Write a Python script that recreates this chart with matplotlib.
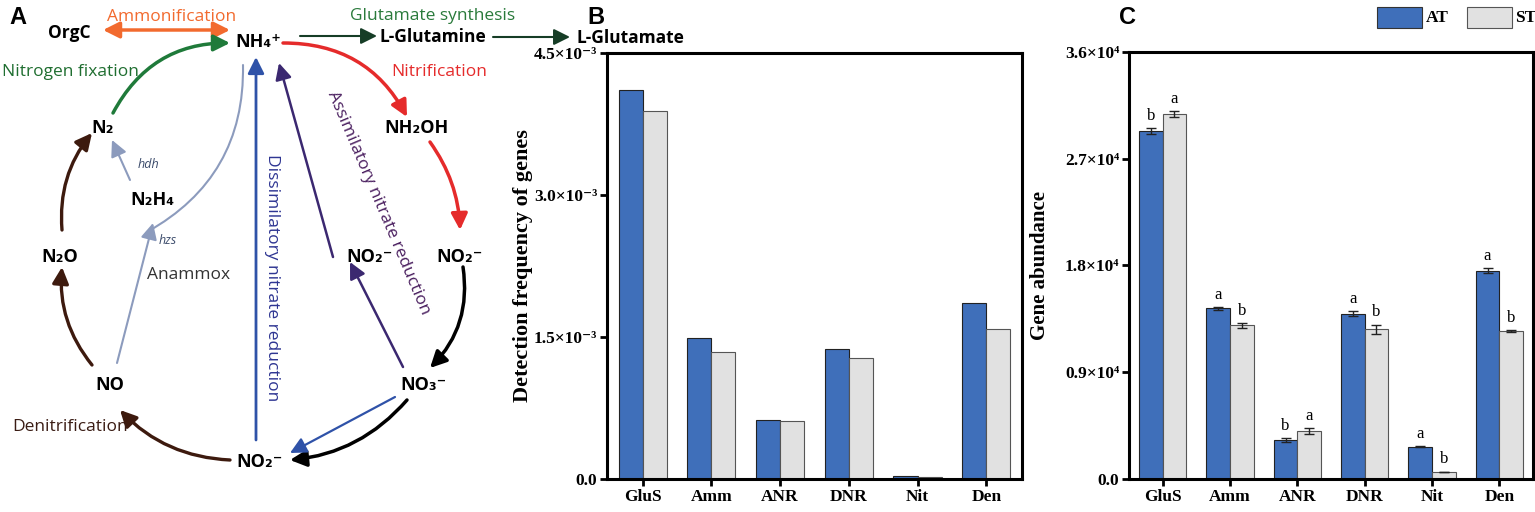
import matplotlib
matplotlib.use('Agg')
import matplotlib.pyplot as plt
from matplotlib.patches import FancyArrowPatch, Rectangle
import numpy as np

# panel B / C data
genes = ['GluS', 'Amm', 'ANR', 'DNR', 'Nit', 'Den']
freq_at = [4.11e-3, 1.49e-3, 0.62e-3, 1.37e-3, 0.035e-3, 1.86e-3]
freq_st = [3.89e-3, 1.34e-3, 0.61e-3, 1.28e-3, 0.025e-3, 1.58e-3]
abund_at = [29300, 14400, 3260, 13950, 2720, 17550]
abund_st = [30800, 12950, 4050, 12620, 590, 12480]
err_at = [250, 120, 180, 220, 40, 200]
err_st = [250, 180, 220, 400, 40, 100]
sig_at = ['b', 'a', 'b', 'a', 'a', 'a']
sig_st = ['a', 'b', 'a', 'b', 'b', 'b']
freq_ticks = [0, 1.5e-3, 3.0e-3, 4.5e-3]
freq_ticklabels = ['0.0', '1.5×10⁻³', '3.0×10⁻³', '4.5×10⁻³']
abund_ticks = [0, 9000, 18000, 27000, 36000]
abund_ticklabels = ['0.0', '0.9×10⁴', '1.8×10⁴', '2.7×10⁴', '3.6×10⁴']
groups = ['AT', 'ST']

SERIF = ['Liberation Serif', 'DejaVu Serif']
SANS = ['Open Sans', 'DejaVu Sans']
C_AT = '#3f6fba'
C_ST = '#e1e1e1'

fig = plt.figure(figsize=(15.35, 5.12), dpi=100)


def bar_panel(rect, at, st, ticks, ticklabels, ylabel, xlim, ylim, label_x, label_size):
    ax = fig.add_axes(rect)
    x = np.arange(len(genes))
    w = 0.35
    ax.bar(x - w / 2, at, w, color=C_AT, edgecolor='#222222', lw=0.8, zorder=2)
    ax.bar(x + w / 2, st, w, color=C_ST, edgecolor='#555555', lw=0.8, zorder=2)
    ax.set_xlim(*xlim)
    ax.set_ylim(*ylim)
    ax.set_xticks(x)
    ax.set_xticklabels(genes, fontfamily=SERIF, fontweight='bold', fontsize=12.5)
    ax.set_yticks(ticks)
    ax.set_yticklabels(ticklabels, fontfamily=SERIF, fontweight='bold', fontsize=12.5)
    ax.tick_params(length=5, width=2, pad=2, direction='out')
    for s in ax.spines.values():
        s.set_linewidth(2.2)
    ax.set_ylabel(ylabel, fontfamily=SERIF, fontweight='bold', fontsize=label_size)
    ax.yaxis.set_label_coords(label_x, 0.5)
    return ax, x, w


axB, x, w = bar_panel([0.3954, 0.0645, 0.2704, 0.832], freq_at, freq_st, freq_ticks,
                      freq_ticklabels, 'Detection frequency of genes',
                      (-0.52, 5.52), (0, 4.5e-3), -0.178, 16)

axC, x, w = bar_panel([0.7355, 0.0645, 0.2632, 0.834], abund_at, abund_st, abund_ticks,
                      abund_ticklabels, 'Gene abundance',
                      (-0.5, 5.5), (0, 36000), -0.195, 15)
axC.errorbar(x - w / 2, abund_at, yerr=err_at, fmt='none', ecolor='#222222',
             elinewidth=1, capsize=3.5, capthick=1, zorder=3)
axC.errorbar(x + w / 2, abund_st, yerr=err_st, fmt='none', ecolor='#222222',
             elinewidth=1, capsize=3.5, capthick=1, zorder=3)
for i in range(len(genes)):
    axC.annotate(sig_at[i], (x[i] - w / 2, abund_at[i] + err_at[i]), xytext=(0, 3),
                 textcoords='offset points', ha='center', va='bottom',
                 fontfamily=SERIF, fontsize=12)
    axC.annotate(sig_st[i], (x[i] + w / 2, abund_st[i] + err_st[i]), xytext=(0, 3),
                 textcoords='offset points', ha='center', va='bottom',
                 fontfamily=SERIF, fontsize=12)

# overlay in pixel coordinates for diagram, panel letters and legend
ov = fig.add_axes([0, 0, 1, 1], zorder=5)
ov.set_xlim(0, 1535)
ov.set_ylim(512, 0)
ov.axis('off')
ov.patch.set_alpha(0)

# legend
ov.add_patch(Rectangle((1377, 7), 45, 21, facecolor=C_AT, edgecolor='#333333', lw=0.8))
ov.add_patch(Rectangle((1467, 7), 45, 21, facecolor=C_ST, edgecolor='#555555', lw=0.8))
ov.text(1426, 18, groups[0], fontfamily=SERIF, fontweight='bold', fontsize=12.5, va='center')
ov.text(1515, 18, groups[1], fontfamily=SERIF, fontweight='bold', fontsize=12.5, va='center')

# panel letters
for lab, px in [('A', 18), ('B', 596), ('C', 1128)]:
    ov.text(px, 17, lab, fontfamily=['Liberation Sans'], fontweight='bold', fontsize=17,
            ha='center', va='center')


def arrow(p1, p2, color, rad=0.0, lw=2.2, style='-|>,head_length=0.7,head_width=0.35', ms=14):
    ov.add_patch(FancyArrowPatch(p1, p2, arrowstyle=style, connectionstyle='arc3,rad=%s' % rad,
                                 color=color, lw=lw, mutation_scale=ms, shrinkA=0, shrinkB=0))


def species(px, py, s, size=13):
    ov.text(px, py, s, fontfamily=SANS, fontweight='bold', fontsize=size, ha='center', va='center')


def label(px, py, s, color, size=12.5, **kw):
    ov.text(px, py, s, fontfamily=SANS, fontsize=size, color=color, ha='center', va='center', **kw)


ORANGE = '#f26a2e'
GREEN = '#1f7a3a'
DKGREEN = '#163d26'
RED = '#e52b2b'
BLUE = '#2f52a8'
PURPLE = '#3b2870'
BROWN = '#3d1a0e'
GREY = '#8c9bbd'

# arrows
arrow((103, 30), (230, 30), ORANGE, lw=2.5, style='<|-|>,head_length=0.7,head_width=0.35')
arrow((300, 36), (377, 36), DKGREEN, lw=1.5)
arrow((493, 37), (570, 37), DKGREEN, lw=1.5)
arrow((113, 113), (230, 43), GREEN, rad=-0.3, lw=2.5)
arrow((283, 43), (407, 117), RED, rad=-0.3, lw=2.5)
arrow((430, 142), (460, 230), RED, rad=-0.15, lw=2.5)
arrow((463, 267), (430, 368), 'black', rad=-0.25, lw=2.5)
arrow((407, 400), (290, 460), 'black', rad=-0.2, lw=2.5)
arrow((395, 397), (290, 453), BLUE, lw=1.6)
arrow((230, 460), (120, 410), BROWN, rad=-0.2, lw=2.4)
arrow((92, 365), (62, 267), BROWN, rad=-0.2, lw=2.4)
arrow((62, 230), (92, 133), BROWN, rad=-0.2, lw=2.4)
arrow((130, 180), (112, 140), GREY, lw=1.5)
arrow((117, 363), (153, 223), GREY, lw=1.5)
arrow((243, 65), (147, 232), GREY, rad=-0.3, lw=1.5, style='-')
arrow((256, 440), (256, 57), BLUE, lw=2)
arrow((333, 257), (279, 63), PURPLE, lw=1.8)
arrow((403, 367), (350, 262), PURPLE, lw=1.8)

# species
species(69, 33, 'OrgC', 12.5)
species(258, 42, 'NH₄⁺')
species(433, 37, 'L-Glutamine', 12.5)
species(630, 38, 'L-Glutamate', 12.5)
species(103, 128, 'N₂')
species(152, 200, 'N₂H₄')
species(60, 257, 'N₂O')
species(110, 385, 'NO')
species(260, 462, 'NO₂⁻')
species(423, 385, 'NO₃⁻')
species(370, 257, 'NO₂⁻')
species(460, 257, 'NO₂⁻')
species(417, 128, 'NH₂OH')

# process labels
label(172, 17, 'Ammonification', ORANGE)
label(433, 16, 'Glutamate synthesis', '#2a7a3b')
label(70, 72, 'Nitrogen fixation', '#1f6e30')
label(439, 72, 'Nitrification', RED)
label(70, 427, 'Denitrification', '#3a1c14')
label(189, 275, 'Anammox', '#333333')
label(149, 165, 'hdh', '#3a4a6a', size=9, style='italic')
label(168, 240, 'hzs', '#3a4a6a', size=9, style='italic')
label(272, 278, 'Dissimilatory nitrate reduction', '#2e3592', rotation=-90)
label(378, 203, 'Assimilatory nitrate reduction', '#4b2060', rotation=-67,
      rotation_mode='anchor')

fig.savefig('out.png', dpi=100)
